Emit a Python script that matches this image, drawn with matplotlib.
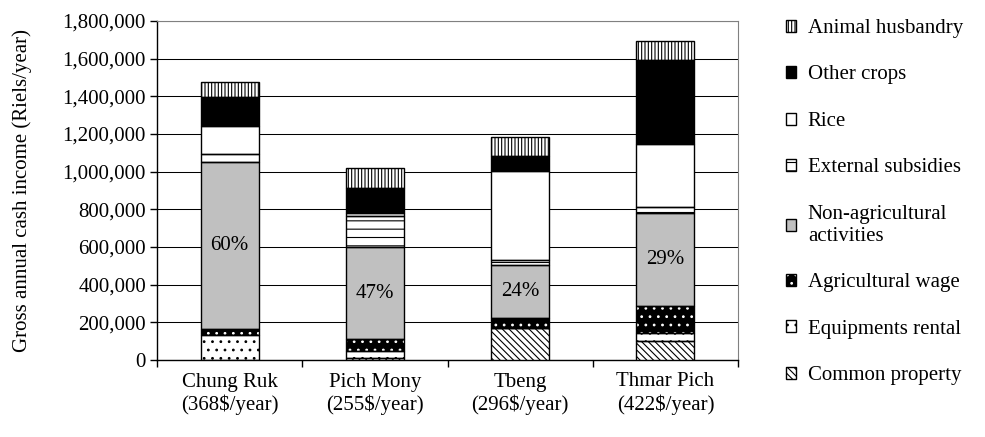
import matplotlib
matplotlib.use('Agg')
import matplotlib.pyplot as plt
import numpy as np
from matplotlib.patches import Patch
from matplotlib.ticker import FuncFormatter
from matplotlib.legend_handler import HandlerTuple

plt.rcParams['font.family'] = ['Liberation Serif', 'DejaVu Serif']
plt.rcParams['hatch.linewidth'] = 0.8

villages = ['Chung Ruk', 'Pich Mony', 'Tbeng', 'Thmar Pich']
usd_per_year = ['368$/year', '255$/year', '296$/year', '422$/year']

# income sources, bottom to top (Riels/year)
common_property = [0, 12000, 168000, 102000]
equipments_rental = [133000, 35000, 0, 40000]
agricultural_wage = [32000, 66000, 53000, 145000]
non_agricultural = [888000, 485000, 283000, 495000]
external_subsidies = [41000, 164000, 27000, 30000]
rice = [149000, 20000, 471000, 335000]
other_crops = [155000, 133000, 80000, 446000]
animal_husbandry = [80000, 106000, 100000, 101000]
pct_labels = ['60%', '47%', '24%', '29%']

series = [
    ('Common property', common_property, dict(fc='white', hc='black', hatch='\\\\\\\\\\')),
    ('Equipments rental', equipments_rental, dict(fc='white', hc='black', hatch='..')),
    ('Agricultural wage', agricultural_wage, dict(fc='black', hc='white', hatch='..')),
    ('Non-agricultural\nactivities', non_agricultural, dict(fc='#C0C0C0', hc='#C0C0C0', hatch=None)),
    ('External subsidies', external_subsidies, dict(fc='white', hc='black', hatch='--')),
    ('Rice', rice, dict(fc='white', hc='white', hatch=None)),
    ('Other crops', other_crops, dict(fc='black', hc='black', hatch=None)),
    ('Animal husbandry', animal_husbandry, dict(fc='white', hc='black', hatch='|||||')),
]

fig, ax = plt.subplots(figsize=(9.85, 4.37), dpi=100)
fig.subplots_adjust(left=157/985, right=738/985, top=1-21/437, bottom=1-360/437)

x = np.arange(len(villages))
width = 0.4
bottom = np.zeros(len(villages))
nonag_centers = None
for name, vals, st in series:
    vals = np.array(vals, dtype=float)
    ax.bar(x, vals, width, bottom=bottom, color=st['fc'], edgecolor=st['hc'],
           hatch=st['hatch'], linewidth=0, zorder=3)
    ax.bar(x, vals, width, bottom=bottom, fill=False, edgecolor='black',
           linewidth=1.0, zorder=4)
    if name.startswith('Non-agricultural'):
        nonag_centers = bottom + vals / 2
    bottom = bottom + vals

for i in range(len(villages)):
    ax.text(x[i], nonag_centers[i], pct_labels[i], ha='center', va='center',
            fontsize=15, zorder=6)

ax.set_ylim(0, 1800000)
ax.set_yticks(np.arange(0, 1800001, 200000))
ax.yaxis.set_major_formatter(FuncFormatter(lambda v, p: f'{v:,.0f}'))
ax.set_xlim(-0.5, 3.5)
ax.set_xticks(x)
ax.set_xticklabels([f'{v}\n({u})' for v, u in zip(villages, usd_per_year)])
ax.set_xticks(np.arange(-0.5, 4.0, 1.0), minor=True)
ax.tick_params(axis='x', which='major', length=0, pad=9, labelsize=15)
ax.tick_params(axis='x', which='minor', length=5, direction='out', width=1)
ax.tick_params(axis='y', length=5, direction='out', width=1, pad=3, labelsize=15)

ax.yaxis.grid(True, color='black', linewidth=0.75)
ax.set_axisbelow(True)
for s in ['top', 'right']:
    ax.spines[s].set_color('#808080')
for s in ['left', 'bottom']:
    ax.spines[s].set_color('black')
    ax.spines[s].set_linewidth(1)

ax.set_ylabel('Gross annual cash income (Riels/year)', fontsize=15)
ax.yaxis.set_label_coords(-0.215, 0.5)

handles, labels = [], []
for name, vals, st in reversed(series):
    h1 = Patch(facecolor=st['fc'], edgecolor=st['hc'], hatch=st['hatch'], linewidth=0)
    h2 = Patch(fill=False, edgecolor='black', linewidth=1)
    handles.append((h1, h2))
    labels.append(name)
fig.legend(handles, labels, loc='upper left', bbox_to_anchor=(786/985, 1-19/437),
           frameon=False, handler_map={tuple: HandlerTuple(ndivide=1, pad=0)},
           handlelength=0.5, handleheight=0.5, handletextpad=0.55,
           labelspacing=1.32, fontsize=15, borderpad=0, borderaxespad=0)

fig.savefig('out.png', dpi=100)
